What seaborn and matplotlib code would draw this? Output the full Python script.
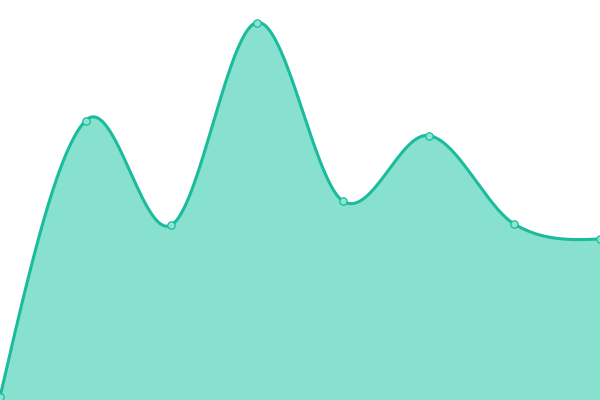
"""Smooth area chart."""

import matplotlib
matplotlib.use("Agg")
import matplotlib.pyplot as plt
import numpy as np
import seaborn as sns

sns.set_theme(style="white")

LINE = "#1abc9c"
FILL = "#88e0cf"

labels = ["P1", "P2", "P3", "P4", "P5", "P6", "P7", "P8"]
values = [3, 279.5, 175, 377.5, 199, 264.5, 176, 161]

x = np.arange(len(values), dtype=float)
y = np.array(values, dtype=float)

# cubic hermite (catmull-rom) through the points, for drawing only
tang = np.empty_like(y)
tang[1:-1] = (y[2:] - y[:-2]) / 2
# natural-style end tangents
tang[0] = (3*(y[1] - y[0]) - tang[1]) / 2
tang[-1] = (3*(y[-1] - y[-2]) - tang[-2]) / 2
xs, ys = [], []
for i in range(len(y) - 1):
    t = np.linspace(0, 1, 60)
    h00 = 2*t**3 - 3*t**2 + 1
    h10 = t**3 - 2*t**2 + t
    h01 = -2*t**3 + 3*t**2
    h11 = t**3 - t**2
    xs.append(x[i] + t)
    ys.append(h00*y[i] + h10*tang[i] + h01*y[i+1] + h11*tang[i+1])
xs = np.concatenate(xs)
ys = np.concatenate(ys)

fig = plt.figure(figsize=(6, 4), dpi=100)
ax = fig.add_axes([0, 0, 1, 1])
ax.fill_between(xs, ys, 0, color=FILL, lw=0)
sns.lineplot(x=xs, y=ys, color=LINE, lw=2.2, ax=ax)
sns.scatterplot(x=x, y=y, s=28, color="#8fe3d3", edgecolor=LINE,
                linewidth=0.9, zorder=5, ax=ax, clip_on=False)
ax.set_xlim(0, len(values) - 1)
ax.set_ylim(0, 400)
ax.axis("off")
fig.savefig("out.png", dpi=100)
